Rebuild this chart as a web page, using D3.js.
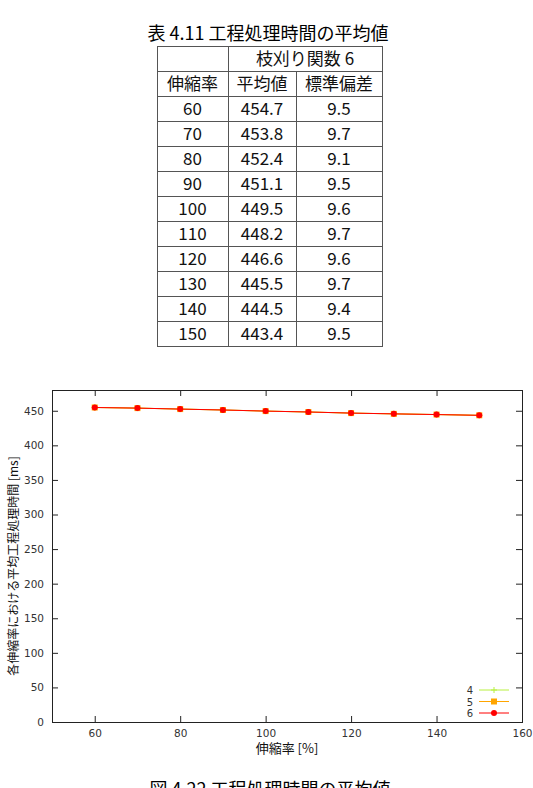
<!DOCTYPE html>
<html>
<head>
<meta charset="utf-8">
<script src="https://cdn.jsdelivr.net/npm/d3@7"></script>
<style>
  body { margin: 0; background: #fff; }
  svg { display: block; }
  text { font-family: "Noto Sans CJK JP", "DejaVu Sans", sans-serif; }
  .tick text, .legend text { font-family: "DejaVu Sans", sans-serif; fill: #333; }
  .tick text { font-size: 10.5px; }
</style>
</head>
<body>
<div id="chart"></div>
<script>
// 伸縮率ごとの平均値と標準偏差
const rates = [60, 70, 80, 90, 100, 110, 120, 130, 140, 150];
const avgValues = [454.7, 453.8, 452.4, 451.1, 449.5, 448.2, 446.6, 445.5, 444.5, 443.4];
const sdValues = [9.5, 9.7, 9.1, 9.5, 9.6, 9.7, 9.6, 9.7, 9.4, 9.5];

// グラフの系列 (3つとも同じ値で重なっている)
const seriesNames = ["4", "5", "6"];
const series4 = [454.7, 453.8, 452.4, 451.1, 449.5, 448.2, 446.6, 445.5, 444.5, 443.4];
const series5 = [454.7, 453.8, 452.4, 451.1, 449.5, 448.2, 446.6, 445.5, 444.5, 443.4];
const series6 = [454.7, 453.8, 452.4, 451.1, 449.5, 448.2, 446.6, 445.5, 444.5, 443.4];

const xTicks = [60, 80, 100, 120, 140, 160];
const yTicks = [0, 50, 100, 150, 200, 250, 300, 350, 400, 450];

const width = 533, height = 788;
const svg = d3.select("#chart").append("svg")
    .attr("width", width)
    .attr("height", height);

// ---------- 表 ----------
svg.append("text")
    .attr("x", 268).attr("y", 40)
    .attr("text-anchor", "middle")
    .attr("font-size", 18)
    .text("表 4.11 工程処理時間の平均値");

const colX = [157, 228, 296, 382];
const tableTop = 46;
const headH = 25, rowH = 25;
const rowTop = tableTop + headH * 2;

const table = svg.append("g")
    .attr("stroke", "#555").attr("stroke-width", 1).attr("fill", "none");

// 外枠と罫線
const tableBottom = rowTop + rowH * rates.length;
table.append("rect")
    .attr("x", colX[0] + 0.5).attr("y", tableTop + 0.5)
    .attr("width", colX[3] - colX[0]).attr("height", tableBottom - tableTop);
table.append("line")
    .attr("x1", colX[1] + 0.5).attr("x2", colX[1] + 0.5)
    .attr("y1", tableTop).attr("y2", tableBottom);
table.append("line")
    .attr("x1", colX[2] + 0.5).attr("x2", colX[2] + 0.5)
    .attr("y1", tableTop + headH).attr("y2", tableBottom);
const hLines = [tableTop + headH, rowTop].concat(rates.map((r, i) => rowTop + rowH * (i + 1)).slice(0, -1));
table.selectAll("line.h").data(hLines).join("line")
    .attr("class", "h")
    .attr("x1", colX[0]).attr("x2", colX[3])
    .attr("y1", d => d + 0.5).attr("y2", d => d + 0.5);

const cellText = (x, y, t) => svg.append("text")
    .attr("x", x).attr("y", y)
    .attr("text-anchor", "middle")
    .attr("font-size", 17)
    .attr("fill", "#111")
    .text(t);

cellText((colX[1] + colX[3]) / 2, tableTop + 19, "枝刈り関数 6");
cellText((colX[0] + colX[1]) / 2, tableTop + headH + 19, "伸縮率");
cellText((colX[1] + colX[2]) / 2, tableTop + headH + 19, "平均値");
cellText((colX[2] + colX[3]) / 2, tableTop + headH + 19, "標準偏差");

rates.forEach((r, i) => {
    const y = rowTop + rowH * i + 19;
    cellText((colX[0] + colX[1]) / 2, y, r);
    cellText((colX[1] + colX[2]) / 2, y, avgValues[i].toFixed(1));
    cellText((colX[2] + colX[3]) / 2, y, sdValues[i].toFixed(1));
});

// ---------- グラフ ----------
const plot = { left: 52, right: 522, top: 390, bottom: 722 };
const x = d3.scaleLinear().domain([50, 160]).range([plot.left, plot.right]);
const y = d3.scaleLinear().domain([0, 480]).range([plot.bottom, plot.top]);

// 目盛り (内向き、上と右にも)
svg.append("g")
    .attr("transform", `translate(0,${plot.bottom})`)
    .call(d3.axisBottom(x).tickValues(xTicks).tickSize(-6).tickPadding(8))
    .call(g => g.select(".domain").remove());
svg.append("g")
    .attr("transform", `translate(0,${plot.top})`)
    .call(d3.axisTop(x).tickValues(xTicks).tickSize(-6).tickFormat(""))
    .call(g => g.select(".domain").remove());
svg.append("g")
    .attr("transform", `translate(${plot.left},0)`)
    .call(d3.axisLeft(y).tickValues(yTicks).tickSize(-6).tickPadding(8))
    .call(g => g.select(".domain").remove());
svg.append("g")
    .attr("transform", `translate(${plot.right},0)`)
    .call(d3.axisRight(y).tickValues(yTicks).tickSize(-6).tickFormat(""))
    .call(g => g.select(".domain").remove());
svg.selectAll(".tick line").attr("stroke", "#222");

svg.append("rect")
    .attr("x", plot.left + 0.5).attr("y", plot.top + 0.5)
    .attr("width", plot.right - plot.left).attr("height", plot.bottom - plot.top)
    .attr("fill", "none").attr("stroke", "#222");

const allSeries = [
    { name: seriesNames[0], values: series4, color: "#b8f040", mark: "plus" },
    { name: seriesNames[1], values: series5, color: "#ffa500", mark: "square" },
    { name: seriesNames[2], values: series6, color: "#ff0000", mark: "circle" }
];

const line = d3.line()
    .x((d, i) => x(rates[i]))
    .y(d => y(d));

function drawMark(g, s, cx, cy) {
    if (s.mark === "plus") {
        g.append("path")
            .attr("d", `M${cx - 3},${cy}H${cx + 3}M${cx},${cy - 3}V${cy + 3}`)
            .attr("stroke", s.color).attr("stroke-width", 1);
    } else if (s.mark === "square") {
        g.append("rect")
            .attr("x", cx - 3).attr("y", cy - 3)
            .attr("width", 6).attr("height", 6)
            .attr("fill", s.color);
    } else {
        g.append("circle")
            .attr("cx", cx).attr("cy", cy).attr("r", 3)
            .attr("fill", s.color);
    }
}

allSeries.forEach(s => {
    const g = svg.append("g");
    g.append("path")
        .datum(s.values)
        .attr("d", line)
        .attr("fill", "none")
        .attr("stroke", s.color)
        .attr("stroke-width", 1);
    s.values.forEach((v, i) => drawMark(g, s, x(rates[i]), y(v)));
});

// 凡例
const legend = svg.append("g").attr("class", "legend");
allSeries.forEach((s, i) => {
    const ly = 690 + i * 11.5;
    legend.append("text")
        .attr("x", 473).attr("y", ly + 4)
        .attr("text-anchor", "end")
        .attr("font-size", 10)
        .text(s.name);
    legend.append("line")
        .attr("x1", 479).attr("x2", 509)
        .attr("y1", ly).attr("y2", ly)
        .attr("stroke", s.color);
    drawMark(legend, s, 494, ly);
});

// 軸ラベル
svg.append("text")
    .attr("transform", `translate(12,${(plot.top + plot.bottom) / 2 + 10}) rotate(-90)`)
    .attr("text-anchor", "middle")
    .attr("dominant-baseline", "central")
    .attr("font-size", 12)
    .attr("fill", "#111")
    .text("各伸縮率における平均工程処理時間 [ms]");

svg.append("text")
    .attr("x", 287).attr("y", 753)
    .attr("text-anchor", "middle")
    .attr("font-size", 13)
    .attr("fill", "#111")
    .text("伸縮率 [%]");

// 図番号
svg.append("text")
    .attr("x", 270).attr("y", 796)
    .attr("text-anchor", "middle")
    .attr("font-size", 18)
    .text("図 4.22 工程処理時間の平均値");
</script>
</body>
</html>
